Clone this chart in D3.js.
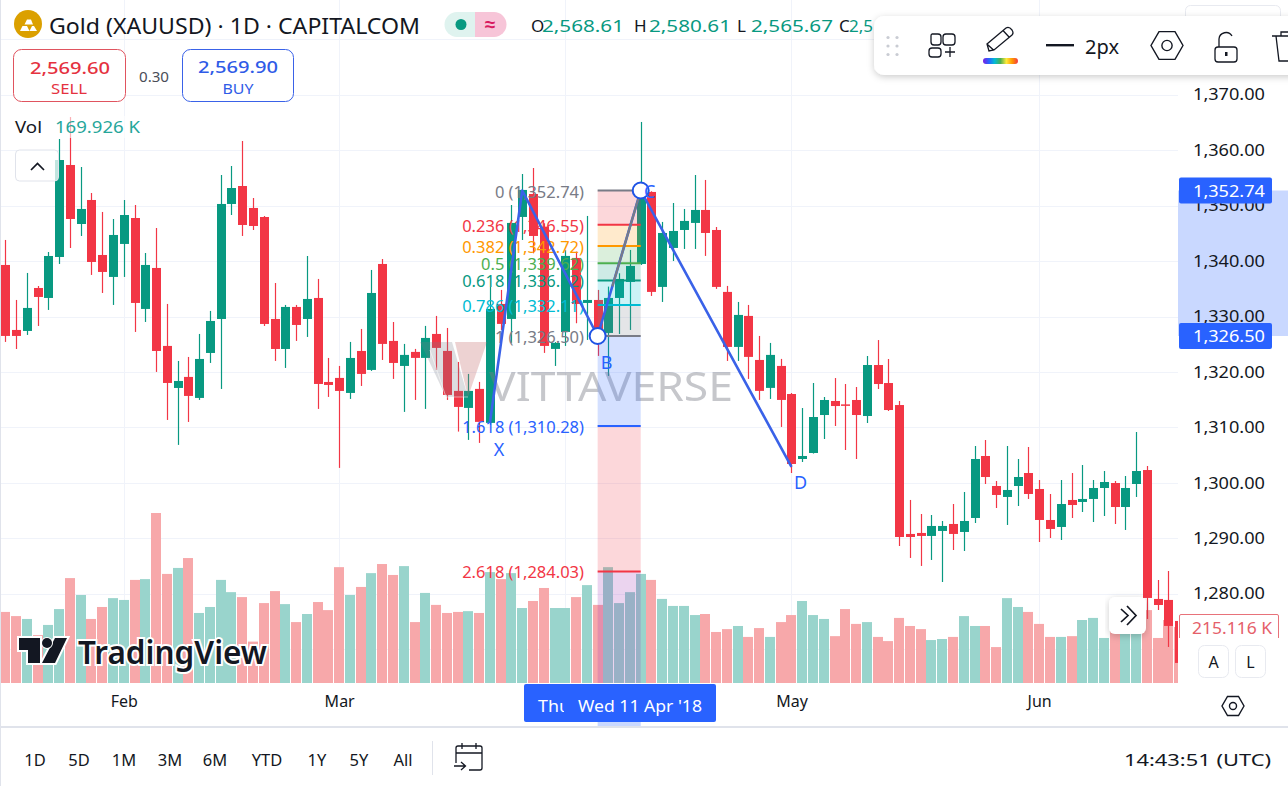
<!DOCTYPE html>
<html>
<head>
<meta charset="utf-8">
<style>
  html, body { margin: 0; padding: 0; background: #fff; overflow: hidden; }
  svg { display: block; }
  text { font-family: "Noto Sans", sans-serif; }
  .axis path, .axis line { display: none; }
</style>
<script src="https://d3js.org/d3.v7.min.js"></script>
</head>
<body>
<svg id="chart" width="1288" height="786"></svg>
<script>
// daily bars
var opens = [1339.31,1327.59,1327.41,1335.16,1333.36,1340.75,1357.34,1346.70,1351.03,1341.11,
  1337.15,1343.10,1347.78,1331.38,1338.77,1324.71,1317.13,1319.12,1315.33,1323.44,
  1329.57,1350.31,1353.55,1349.59,1347.96,1329.57,1324.16,1331.74,1329.57,1333.36,
  1318.21,1318.94,1316.23,1323.80,1320.38,1339.49,1325.61,1321.10,1323.63,1322.55,
  1326.87,1323.81,1316.60,1313.53,1316.96,1310.83,1332.28,1329.58,1347.97,1352.11,
  1346.22,1324.17,1327.23,1340.58,1332.46,1333.00,1327.05,1333.36,1336.25,1339.49,
  1352.48,1335.35,1342.38,1345.62,1346.89,1349.23,1345.62,1334.45,1324.53,1330.12,
  1322.18,1317.14,1321.10,1316.04,1304.32,1305.40,1312.25,1314.78,1314.17,1314.96,
  1312.07,1321.27,1318.02,1314.05,1290.80,1290.98,1290.44,1291.34,1292.60,1291.16,
  1293.68,1304.86,1299.45,1297.47,1299.45,1301.79,1298.91,1293.32,1292.06,1296.93,
  1296.57,1297.11,1299.09,1299.99,1295.66,1299.81,1302.33,1279.08,1278.90,1275.11];
var highs = [1343.82,1333.00,1337.87,1335.52,1341.65,1362.03,1365.99,1356.98,1352.29,1348.87,
  1347.60,1351.03,1350.13,1341.47,1345.98,1332.28,1322.00,1322.72,1326.87,1331.02,
  1355.54,1357.16,1361.67,1351.39,1348.14,1336.06,1332.10,1332.10,1340.93,1336.79,
  1322.54,1321.10,1325.43,1327.77,1338.41,1340.39,1329.03,1325.07,1324.17,1328.32,
  1330.12,1327.95,1321.82,1319.66,1318.22,1335.35,1334.81,1350.13,1355.72,1356.80,
  1346.83,1325.40,1342.02,1341.72,1348.15,1334.81,1335.41,1337.81,1342.02,1365.10,
  1352.60,1347.07,1350.49,1349.41,1355.54,1354.64,1346.16,1335.53,1332.64,1332.10,
  1326.51,1325.25,1322.37,1316.22,1313.51,1318.02,1315.50,1318.92,1317.84,1317.30,
  1322.89,1325.77,1322.35,1314.78,1296.93,1294.40,1294.22,1293.14,1296.20,1298.37,
  1306.66,1307.74,1300.35,1306.66,1304.32,1306.48,1300.53,1298.01,1300.53,1301.79,
  1303.24,1300.53,1302.15,1300.35,1301.25,1309.19,1303.06,1282.50,1284.12,1276.49];
var lows = [1325.43,1324.16,1326.69,1328.31,1331.20,1339.49,1342.37,1344.54,1337.51,1334.26,
  1332.10,1337.15,1327.23,1329.03,1320.02,1311.36,1306.86,1311.00,1314.97,1321.64,
  1316.95,1348.32,1344.54,1345.62,1328.31,1322.00,1320.74,1325.61,1326.33,1313.35,
  1315.51,1302.71,1315.15,1317.49,1320.20,1322.18,1318.76,1312.81,1314.97,1313.35,
  1320.38,1314.97,1309.26,1307.76,1307.22,1310.47,1327.59,1325.25,1343.82,1341.42,
  1323.45,1321.10,1324.71,1328.80,1325.79,1322.91,1319.30,1326.87,1327.59,1339.31,
  1333.72,1332.64,1340.03,1342.20,1342.20,1340.94,1334.99,1322.00,1322.00,1318.76,
  1314.97,1315.15,1310.10,1301.79,1303.78,1305.30,1307.92,1310.27,1305.94,1304.32,
  1310.81,1316.94,1312.97,1288.63,1286.47,1285.03,1286.11,1282.14,1287.91,1287.73,
  1292.78,1299.81,1295.48,1292.42,1295.84,1297.11,1289.35,1290.07,1289.71,1293.68,
  1294.76,1292.96,1294.04,1292.60,1291.52,1297.47,1275.47,1277.09,1270.42,1266.88];
var closes = [1326.51,1326.51,1331.56,1333.54,1340.93,1358.24,1347.60,1349.41,1339.85,1338.05,
  1344.72,1348.32,1332.46,1339.31,1323.80,1318.03,1318.39,1315.69,1322.36,1329.21,
  1350.31,1353.19,1346.52,1346.34,1328.67,1324.16,1331.74,1328.49,1333.18,1317.85,
  1317.67,1316.59,1322.54,1319.66,1334.26,1325.07,1321.64,1323.09,1322.55,1326.15,
  1324.35,1315.87,1313.71,1316.60,1311.01,1331.38,1328.68,1346.89,1352.84,1344.54,
  1324.71,1325.25,1340.94,1332.28,1333.00,1327.59,1333.36,1336.79,1339.13,1352.84,
  1334.45,1345.08,1345.44,1347.25,1349.23,1345.08,1335.35,1324.53,1330.30,1322.73,
  1316.60,1323.09,1314.97,1303.42,1304.86,1311.89,1314.96,1313.87,1314.05,1312.25,
  1321.27,1317.84,1313.15,1290.25,1290.25,1290.44,1292.24,1292.24,1290.80,1293.14,
  1304.32,1301.07,1297.83,1298.73,1301.07,1298.01,1293.32,1291.70,1296.20,1296.02,
  1297.11,1299.09,1300.17,1295.66,1299.09,1302.15,1279.26,1277.99,1274.21,1267.54];
// volume in thousands
var volumes = [273,257,246,184,223,284,403,338,246,292,
  326,319,396,399,653,419,442,480,269,292,
  396,349,330,159,307,353,303,234,265,311,
  280,445,338,369,422,457,415,449,234,346,
  300,269,273,276,269,426,399,422,288,315,
  365,288,288,330,376,300,445,307,349,419,
  396,323,296,296,261,265,196,207,219,177,
  211,177,234,261,315,261,246,180,284,227,
  234,177,161,250,219,207,165,169,177,257,
  219,219,138,326,292,273,227,177,177,180,
  242,250,173,204,204,191,280,173,242,215];

var priceTicks = [1370,1360,1350,1340,1330,1320,1310,1300,1290,1280];
var gridPrices = [1380,1370,1360,1350,1340,1330,1320,1310,1300,1290,1280,1270];
var monthIndex = [11,31,52,73,96];
var monthLabels = ["Feb","Mar","Apr","May","Jun"];

// fib retracement levels
var fibRatios = ["0","0.236","0.382","0.5","0.618","0.786","1","1.618","2.618"];
var fibPrices = [1352.74,1346.55,1342.72,1339.62,1336.52,1332.11,1326.50,1310.28,1284.03];
var fibColors = ["#787b86","#f23645","#ff9800","#4caf50","#089981","#00bcd4","#787b86","#2962ff","#f23645"];
var fibLowest = 1228.58;
var fibEndColor = "#9c27b0";
var fibStart = 55, fibEnd = 59;

// XABCD pattern
var patternNames = ["X","A","B","C","D"];
var patternIndex = [45,48,55,59,73];
var patternPrices = [1310.9,1352.74,1326.50,1352.74,1302.9];

var rangeLabels = ["1D","5D","1M","3M","6M","YTD","1Y","5Y","All"];
var rangeCentres = [35,79,124,170,215,267,317,359,403];

var GREEN = "#089981", RED = "#f23645", BLUE = "#2962ff", INK = "#131722";

var svg = d3.select("#chart");
var plotRight = 1178, plotBottom = 683;

var x = d3.scaleLinear().domain([0, 109]).range([5.3, 1179.2]);
var y = d3.scaleLinear().domain([1352.74, 1326.50]).range([190.5, 336]);
var v = d3.scaleLinear().domain([0, 653]).range([plotBottom, plotBottom - 170]);

function txt(parent, px, py, s, size, fill, anchor, len, weight) {
  var t = parent.append("text")
    .attr("x", px).attr("y", py)
    .attr("font-size", size)
    .attr("fill", fill)
    .attr("text-anchor", anchor || "start")
    .attr("dominant-baseline", "central")
    .text(s);
  if (len) t.attr("textLength", len).attr("lengthAdjust", "spacingAndGlyphs");
  if (weight) t.attr("font-weight", weight);
  return t;
}

svg.append("defs").append("clipPath").attr("id", "plot")
  .append("rect").attr("x", 0).attr("y", 0).attr("width", plotRight).attr("height", plotBottom);
var defs = svg.select("defs");
var shadow = defs.append("filter").attr("id", "shadow")
  .attr("x", "-10%").attr("y", "-30%").attr("width", "120%").attr("height", "170%");
shadow.append("feDropShadow").attr("dx", 0).attr("dy", 2).attr("stdDeviation", 3.5)
  .attr("flood-color", "#000").attr("flood-opacity", 0.2);

var plot = svg.append("g").attr("clip-path", "url(#plot)");

// grid
plot.selectAll(".gh").data(gridPrices).enter().append("line")
  .attr("x1", 0).attr("x2", plotRight)
  .attr("y1", function(d) { return Math.round(y(d)) + 0.5; })
  .attr("y2", function(d) { return Math.round(y(d)) + 0.5; })
  .attr("stroke", "#f0f3fa");
plot.selectAll(".gv").data(monthIndex).enter().append("line")
  .attr("x1", function(d) { return Math.round(x(d)) + 0.5; })
  .attr("x2", function(d) { return Math.round(x(d)) + 0.5; })
  .attr("y1", 0).attr("y2", plotBottom)
  .attr("stroke", "#f0f3fa");

var isUp = function(i) { return closes[i] >= opens[i]; };
var idx = d3.range(opens.length);

// volume
plot.selectAll(".vol").data(idx).enter().append("rect")
  .attr("x", function(i) { return Math.round(x(i) - 5); })
  .attr("width", 10)
  .attr("y", function(i) { return v(volumes[i]); })
  .attr("height", function(i) { return plotBottom - v(volumes[i]); })
  .attr("fill", function(i) { return isUp(i) ? "#99d4cc" : "#f7a8aa"; });

// candles
var candle = plot.selectAll(".candle").data(idx).enter().append("g");
candle.append("line")
  .attr("x1", function(i) { return Math.round(x(i)) + 0.5; })
  .attr("x2", function(i) { return Math.round(x(i)) + 0.5; })
  .attr("y1", function(i) { return y(highs[i]); })
  .attr("y2", function(i) { return y(lows[i]); })
  .attr("stroke", function(i) { return isUp(i) ? GREEN : RED; })
  .attr("stroke-width", 1.2);
candle.append("rect")
  .attr("x", function(i) { return Math.round(x(i)) - 4; })
  .attr("width", 9)
  .attr("y", function(i) { return y(Math.max(opens[i], closes[i])); })
  .attr("height", function(i) { return Math.max(1.5, Math.abs(y(opens[i]) - y(closes[i]))); })
  .attr("fill", function(i) { return isUp(i) ? GREEN : RED; });

// watermark
var mark = svg.append("g");
mark.append("path").attr("d", "M420,342 L452,342 L468,397 L446,397 Z").attr("fill", "#787b86").attr("opacity", 0.25);
mark.append("path").attr("d", "M487,342 L455,342 L468,397 Z").attr("fill", "#c46a6a").attr("opacity", 0.3);
mark.append("path").attr("d", "M430,350 L446,397 L468,397").attr("fill", "none").attr("stroke", "#fff").attr("opacity", 0.5);
txt(mark, 611, 385, "VITTAVERSE", 40, "#787b86", "middle", 244).attr("opacity", 0.42);

// fib zone, levels and labels
var fibX1 = x(fibStart), fibX2 = x(fibEnd);
var fib = svg.append("g");
var bands = fibPrices.slice(0, -1).map(function(p, i) {
  return { from: p, to: fibPrices[i + 1], color: fibColors[i + 1] };
});
bands.push({ from: fibPrices[fibPrices.length - 1], to: fibLowest, color: fibEndColor });
fib.append("g").attr("clip-path", "url(#plot)").selectAll("rect").data(bands).enter().append("rect")
  .attr("x", fibX1).attr("width", fibX2 - fibX1)
  .attr("y", function(d) { return y(d.from); })
  .attr("height", function(d) { return y(d.to) - y(d.from); })
  .attr("fill", function(d) { return d.color; })
  .attr("fill-opacity", function(d, i) { return i === 6 ? 0.2 : 0.2; });
fib.selectAll("line").data(fibPrices).enter().append("line")
  .attr("x1", fibX1).attr("x2", fibX2)
  .attr("y1", function(d) { return y(d); })
  .attr("y2", function(d) { return y(d); })
  .attr("stroke", function(d, i) { return fibColors[i]; })
  .attr("stroke-width", 2);
var priceFmt = d3.format(",.2f");
fibPrices.forEach(function(p, i) {
  txt(fib, 584, y(p) + 0.5, fibRatios[i] + " (" + priceFmt(p) + ")", 16.5, fibColors[i], "end");
});

// pattern
var ptX = function(i) { return x(patternIndex[i]); };
var ptY = function(i) { return y(patternPrices[i]); };
var line = d3.line().x(ptX).y(ptY);
svg.append("path").attr("d", line([0,1,2,3,4]))
  .attr("fill", "none").attr("stroke", "#3a62e8").attr("stroke-width", 2.6).attr("stroke-linejoin", "round");
svg.append("line")
  .attr("x1", ptX(3)).attr("y1", ptY(3)).attr("x2", ptX(2)).attr("y2", ptY(2))
  .attr("stroke", "#787b86").attr("stroke-width", 2.2).attr("stroke-dasharray", "100 80");
svg.selectAll(".pt").data([2,3]).enter().append("circle")
  .attr("cx", ptX).attr("cy", ptY).attr("r", 8)
  .attr("fill", "#fff").attr("stroke", "#1e53e5").attr("stroke-width", 2);
var nameOffsets = [[9,26],null,[9,26],[9,0],[9,15]];
patternNames.forEach(function(n, i) {
  if (!nameOffsets[i]) return;
  txt(svg, ptX(i) + nameOffsets[i][0], ptY(i) + nameOffsets[i][1], n, 18, "#2962ff", "middle");
});

// price axis
var bandG = svg.append("g");
bandG.append("rect").attr("x", plotRight).attr("width", 1288 - plotRight)
  .attr("y", y(fibPrices[0])).attr("height", y(fibPrices[6]) - y(fibPrices[0]))
  .attr("fill", "#2962ff").attr("fill-opacity", 0.25);
var priceAxis = d3.axisRight(y).tickValues(priceTicks).tickSize(0).tickPadding(0).tickFormat(priceFmt);
svg.append("g").attr("class", "axis")
  .attr("transform", "translate(1193,0)")
  .call(priceAxis)
  .selectAll("text")
  .attr("font-size", 16).attr("fill", INK).attr("textLength", 72).attr("lengthAdjust", "spacingAndGlyphs");
[fibPrices[0], fibPrices[6]].forEach(function(p) {
  svg.append("rect").attr("x", 1179).attr("y", y(p) - 13).attr("width", 93).attr("height", 26)
    .attr("rx", 2).attr("fill", BLUE);
  txt(svg, 1193, y(p), priceFmt(p), 16, "#fff", "start", 72);
});

// last volume tag
var volTag = svg.append("g");
volTag.append("rect").attr("x", 1179).attr("y", 614).attr("width", 100).attr("height", 24).attr("fill", "#fff");
volTag.append("path").attr("d", "M1179.5,638 V616 Q1179.5,614.5 1181,614.5 H1277 Q1278.5,614.5 1278.5,616 V638")
  .attr("fill", "none").attr("stroke", "#e8727a");
txt(volTag, 1192, 627.5, "215.116 K", 16, "#e5606a", "start", 80);

// A and L buttons
[[1198,"A"],[1235,"L"]].forEach(function(b) {
  svg.append("rect").attr("x", b[0] + 0.5).attr("y", 645.5).attr("width", 30).attr("height", 32).attr("rx", 6)
    .attr("fill", "#fff").attr("stroke", "#e8eaf0");
  txt(svg, b[0] + 15.5, 661.5, b[1], 16, INK, "middle");
});

// time axis
var timeScale = d3.scaleOrdinal().domain(monthIndex).range(monthIndex.map(function(i) { return x(i); }));
var timeAxis = d3.axisBottom(timeScale).tickValues(monthIndex).tickSize(0).tickPadding(0)
  .tickFormat(function(d, i) { return monthLabels[i]; });
svg.append("g").attr("class", "axis")
  .attr("transform", "translate(0,696)")
  .call(timeAxis)
  .selectAll("text").attr("font-size", 16).attr("fill", INK);

// crosshair range on the time axis
svg.append("rect").attr("x", fibX1).attr("y", plotBottom + 1).attr("width", fibX2 - fibX1).attr("height", 43)
  .attr("fill", BLUE).attr("fill-opacity", 0.25);
svg.append("rect").attr("x", 524).attr("y", 684).attr("width", 192).attr("height", 38).attr("rx", 2).attr("fill", BLUE);
svg.append("clipPath").attr("id", "thu").append("rect").attr("x", 530).attr("y", 684).attr("width", 34).attr("height", 38);
txt(svg, 538, 706, "Thu 29 Mar '18", 16, "#fff", "start", 124).attr("clip-path", "url(#thu)");
txt(svg, 578, 706, "Wed 11 Apr '18", 16, "#fff", "start", 124);

// hexagon settings icon
function hexIcon(g, cx, cy, r) {
  var pts = d3.range(6).map(function(k) {
    var a = k * Math.PI / 3;
    return [cx + r * Math.cos(a), cy + r * Math.sin(a)];
  });
  g.append("polygon").attr("points", pts.join(" ")).attr("fill", "none").attr("stroke", INK).attr("stroke-width", 1.4);
  g.append("circle").attr("cx", cx).attr("cy", cy).attr("r", r * 0.32).attr("fill", "none").attr("stroke", INK).attr("stroke-width", 1.4);
}
hexIcon(svg, 1233, 706, 11);

// bottom bar
svg.append("line").attr("x1", 0).attr("x2", 1288).attr("y1", 727).attr("y2", 727).attr("stroke", "#e0e3eb").attr("stroke-width", 2);
svg.append("line").attr("x1", 0.5).attr("x2", 0.5).attr("y1", 0).attr("y2", 786).attr("stroke", "#e0e3eb");
rangeLabels.forEach(function(r, i) {
  txt(svg, rangeCentres[i], 759, r, 16.5, INK, "middle");
});
svg.append("line").attr("x1", 432.5).attr("x2", 432.5).attr("y1", 741).attr("y2", 775).attr("stroke", "#e0e3eb");
svg.append("path")
  .attr("d", "M456,763 V748 Q456,746 458,746 H480 Q482,746 482,748 V768 Q482,770 480,770 H469 M456,753 H482 M462,743 V749 M476,743 V749 M454,766 H465 M461,762 L465.500,766 L461,770")
  .attr("fill", "none").attr("stroke", INK).attr("stroke-width", 1.3);
txt(svg, 1271, 759, "14:43:51 (UTC)", 16.5, INK, "end", 147);

// expand button
svg.append("rect").attr("x", 1109).attr("y", 597).attr("width", 37).attr("height", 37).attr("rx", 6)
  .attr("fill", "#fff").attr("filter", "url(#shadow)");
svg.append("path").attr("d", "M1121,609 L1128,615.500 L1121,622 M1127,606 L1136,615.500 L1127,625")
  .attr("fill", "none").attr("stroke", INK).attr("stroke-width", 1.7);

// TradingView logo
var tv = svg.append("g");
var tvShape = "M19,638 H40 V663 H28 V650 H19 Z M55,638 H67 L55,663 H42 Z";
tv.append("path").attr("d", tvShape).attr("fill", INK).attr("stroke", "#fff").attr("stroke-width", 4).attr("paint-order", "stroke");
tv.append("circle").attr("cx", 47).attr("cy", 643).attr("r", 5).attr("fill", INK).attr("stroke", "#fff").attr("stroke-width", 2).attr("paint-order", "stroke");
txt(tv, 78, 651, "TradingView", 32, INK, "start", 189, 600)
  .attr("stroke", "#fff").attr("stroke-width", 4).attr("paint-order", "stroke");

// legend: title row
svg.append("circle").attr("cx", 28).attr("cy", 24).attr("r", 14).attr("fill", "#dba000");
svg.append("path").attr("d", "M20,31 L22.500,26 H27 L29.500,31 Z M29.500,31 L32,26 H34 L37,31 Z M24.500,24.500 L27,19.500 H31 L33,24.500 Z")
  .attr("fill", "#fff");
txt(svg, 49, 25, "Gold (XAUUSD) · 1D · CAPITALCOM", 22, INK, "start", 371);
svg.append("path").attr("d", "M475,12 H457 A12.500,12.500 0 0 0 457,37 H475 Z").attr("fill", "#dff3ef");
svg.append("path").attr("d", "M475,12 H494 A12.500,12.500 0 0 1 494,37 H475 Z").attr("fill", "#f7c5d8");
svg.append("circle").attr("cx", 461).attr("cy", 24.5).attr("r", 5.5).attr("fill", GREEN);
txt(svg, 490, 24, "≈", 19, "#d81b60", "middle", null, 700);
var ohlc = [["O",531,"2,568.61",542],["H",634,"2,580.61",649],["L",737,"2,565.67",751],["C",839,"2,5",849]];
ohlc.forEach(function(o) {
  txt(svg, o[1], 25, o[0], 17, INK);
  txt(svg, o[3], 25, o[2], 17, GREEN, "start", o[2].length > 3 ? 82 : null);
});

// sell and buy
svg.append("rect").attr("x", 13.5).attr("y", 49.5).attr("width", 112).attr("height", 52).attr("rx", 8)
  .attr("fill", "#fff").attr("stroke", "#e0545f");
txt(svg, 70, 67, "2,569.60", 17, "#e5323f", "middle", 80, 500);
txt(svg, 69, 87.500, "SELL", 14.5, "#e5323f", "middle", 36);
txt(svg, 154, 76, "0.30", 14, "#4a4d57", "middle", 30);
svg.append("rect").attr("x", 182.5).attr("y", 49.5).attr("width", 111).attr("height", 52).attr("rx", 8)
  .attr("fill", "#fff").attr("stroke", "#3a62e8");
txt(svg, 238, 66.500, "2,569.90", 17, "#2f5be7", "middle", 80, 500);
txt(svg, 238, 87.500, "BUY", 14.5, "#2f5be7", "middle", 31);

// volume legend
svg.append("rect").attr("x", 52).attr("y", 116).attr("width", 92).attr("height", 22).attr("fill", "#fff").attr("fill-opacity", 0.6);
txt(svg, 15, 127, "Vol", 16, INK, "start", 27);
txt(svg, 55, 127, "169.926 K", 16, "#26a69a", "start", 85);

// collapse button
svg.append("rect").attr("x", 15.5).attr("y", 150).attr("width", 43).attr("height", 31).attr("rx", 4)
  .attr("fill", "#fff").attr("fill-opacity", 0.75).attr("stroke", "#e0e3eb");
svg.append("path").attr("d", "M31,170 L37.500,163.500 L44,170").attr("fill", "none").attr("stroke", INK).attr("stroke-width", 1.7);

// floating drawing toolbar
var tb = svg.append("g");
tb.append("rect").attr("x", 1185.5).attr("y", 5.5).attr("width", 95).attr("height", 40).attr("rx", 5)
  .attr("fill", "#fff").attr("stroke", "#e8eaf0");
tb.append("rect").attr("x", 874).attr("y", 16).attr("width", 440).attr("height", 59).attr("rx", 10)
  .attr("fill", "#fff").attr("filter", "url(#shadow)");
d3.range(2).forEach(function(cx) {
  d3.range(3).forEach(function(cy) {
    tb.append("circle").attr("cx", 888 + cx * 9).attr("cy", 37.500 + cy * 8.5).attr("r", 1.6).attr("fill", "#c9ccd3");
  });
});
tb.append("path")
  .attr("d", "M932,34 h6 a3,3 0 0 1 3,3 v5 a3,3 0 0 1 -3,3 h-4 a3,3 0 0 1 -3,-3 v-6 a2,2 0 0 1 1,-2 Z M946,34 h6 a3,3 0 0 1 3,3 v5 a3,3 0 0 1 -3,3 h-6 a3,3 0 0 1 -3,-3 v-5 a3,3 0 0 1 3,-3 Z M932,48 h6 a3,3 0 0 1 3,3 v3 a3,3 0 0 1 -3,3 h-6 a3,3 0 0 1 -3,-3 v-3 a3,3 0 0 1 3,-3 Z M945,52 h10 M950,47 v10")
  .attr("fill", "none").attr("stroke", INK).attr("stroke-width", 1.3);
tb.append("path")
  .attr("d", "M989,51 L987,44 L1006,28 Q1009,26 1012,30 Q1014,33 1012,35 L994,50 Z M1003,30.500 L1009.500,37.500 M987.500,44.500 L993.500,50")
  .attr("fill", "none").attr("stroke", INK).attr("stroke-width", 1.3);
var rainbow = defs.append("linearGradient").attr("id", "rainbow");
["#7b1fe0","#2962ff","#00bcd4","#4caf50","#ffeb3b","#ff9800","#f23645"].forEach(function(c, i) {
  rainbow.append("stop").attr("offset", (i / 6 * 100) + "%").attr("stop-color", c);
});
tb.append("rect").attr("x", 983).attr("y", 58).attr("width", 35).attr("height", 6).attr("rx", 3).attr("fill", "url(#rainbow)");
tb.append("rect").attr("x", 1046).attr("y", 44).attr("width", 28).attr("height", 2.4).attr("fill", INK);
txt(tb, 1085, 46, "2px", 20, INK, "start", 34);
hexIcon(tb, 1167, 45.500, 16);
tb.append("path")
  .attr("d", "M1218,47 h16 a3,3 0 0 1 3,3 v9 a3,3 0 0 1 -3,3 h-16 a3,3 0 0 1 -3,-3 v-9 a3,3 0 0 1 3,-3 Z M1219,47 v-8 a7,7 0 0 1 13,-3")
  .attr("fill", "none").attr("stroke", INK).attr("stroke-width", 1.3);
tb.append("rect").attr("x", 1225).attr("y", 52).attr("width", 2.5).attr("height", 4).attr("fill", INK);
tb.append("path")
  .attr("d", "M1272,36 H1298 M1276,36 L1279,61 H1295 M1281,36 V32 H1292 V36")
  .attr("fill", "none").attr("stroke", INK).attr("stroke-width", 1.3);
</script>
</body>
</html>
